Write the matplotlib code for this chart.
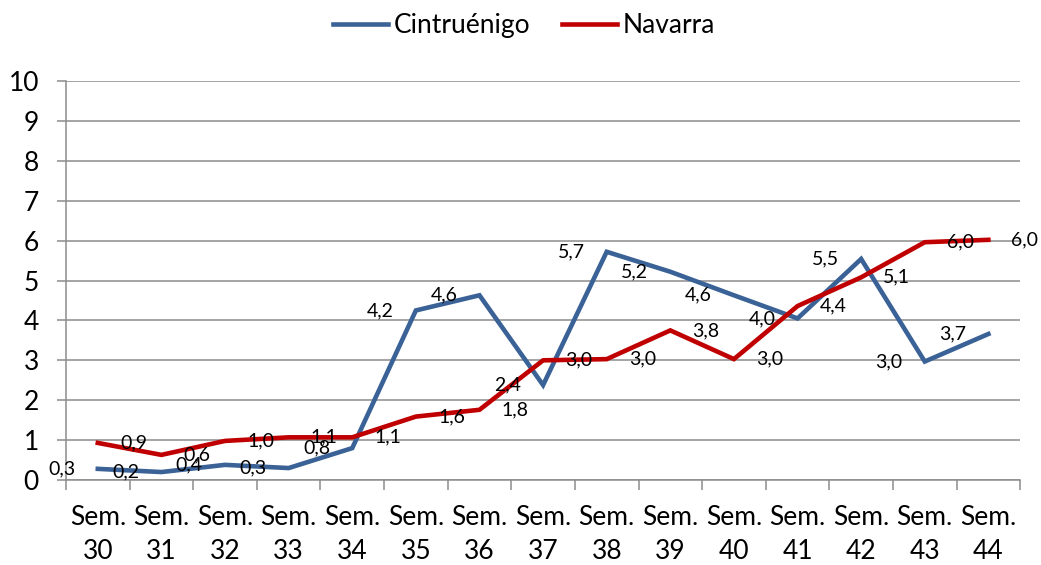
import matplotlib.pyplot as plt

# datos
semanas = ["Sem.\n30", "Sem.\n31", "Sem.\n32", "Sem.\n33", "Sem.\n34", "Sem.\n35", "Sem.\n36", "Sem.\n37",
           "Sem.\n38", "Sem.\n39", "Sem.\n40", "Sem.\n41", "Sem.\n42", "Sem.\n43", "Sem.\n44"]
cintruenigo = [0.28, 0.2, 0.38, 0.3, 0.8, 4.25, 4.63, 2.38, 5.72, 5.22, 4.63, 4.05, 5.54, 2.97, 3.66]
navarra = [0.93, 0.63, 0.98, 1.07, 1.07, 1.59, 1.76, 3.0, 3.03, 3.75, 3.03, 4.36, 5.08, 5.96, 6.02]

plt.rcParams['font.family'] = ['Lato', 'DejaVu Sans']

fig = plt.figure(figsize=(10.41, 5.65), dpi=100)
ax = fig.add_axes([0.0634, 0.1504, 0.9166, 0.7062])

x = list(range(len(semanas)))
azul = "#3a6296"
rojo = "#c00000"
gris = "#8c8c8c"

ax.plot(x, cintruenigo, color=azul, lw=3.3, label="Cintruénigo", solid_joinstyle="miter", zorder=3)
ax.plot(x, navarra, color=rojo, lw=3.3, label="Navarra", solid_joinstyle="miter", zorder=3)

# etiquetas de datos: azul a la izquierda, rojo a la derecha
for xi, v in zip(x, cintruenigo):
    ax.annotate(f"{v:.1f}".replace(".", ","), (xi, v), xytext=(-16, 0), textcoords="offset points",
                ha="right", va="center", fontsize=14, color="black", zorder=4)
for xi, v in zip(x, navarra):
    ax.annotate(f"{v:.1f}".replace(".", ","), (xi, v), xytext=(16, 0), textcoords="offset points",
                ha="left", va="center", fontsize=14, color="black", zorder=4)

ax.set_xlim(-0.5, len(semanas) - 0.5)
ax.set_ylim(0, 10)
ax.set_yticks(range(0, 11))
ax.tick_params(axis="y", length=6.5, width=1.1, color=gris, labelsize=19, pad=13)

# marcas en los límites de categoría, etiquetas en el centro
ax.set_xticks([i - 0.5 for i in range(len(semanas) + 1)])
ax.set_xticklabels([])
ax.set_xticks(x, minor=True)
ax.set_xticklabels(semanas, minor=True, fontsize=19, linespacing=1.45)
ax.tick_params(axis="x", which="major", length=7, width=1.1, color=gris)
ax.tick_params(axis="x", which="minor", length=0, pad=18)

ax.grid(axis="y", color=gris, lw=1.1)
ax.set_axisbelow(True)
for s in ["top", "right"]:
    ax.spines[s].set_visible(False)
for s in ["left", "bottom"]:
    ax.spines[s].set_color(gris)
    ax.spines[s].set_linewidth(1.1)

fig.legend(loc="center", bbox_to_anchor=(0.503, 0.955), ncol=2, frameon=False, fontsize=19,
           handlelength=2.1, handletextpad=0.2, columnspacing=1.2)

fig.savefig("out.png", dpi=100)
